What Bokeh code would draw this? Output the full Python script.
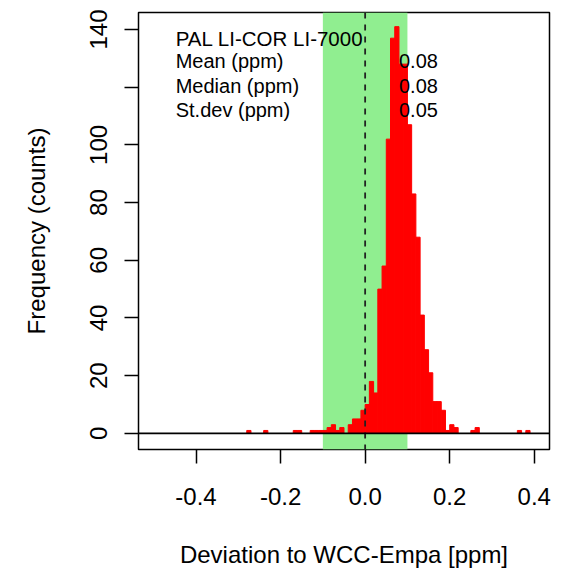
import numpy as np
from bokeh.plotting import figure
from bokeh.models import BoxAnnotation, Span, FixedTicker, Label, ColumnDataSource
from bokeh.embed import file_html
from bokeh.resources import INLINE

# ---- data -------------------------------------------------------------
bin_width = 0.01
first_break = -0.28
counts = [
    1, 0, 0, 0, 1, 0, 0, 0, 0, 0, 0, 1, 1, 0, 0, 1, 1, 1, 1, 2, 3, 1, 2, 0, 3, 5, 5, 8,
    10, 18, 14, 50, 58, 102, 137, 141, 128, 128, 107, 83, 68, 41, 29, 21, 11, 11, 8, 1,
    3, 2, 0, 0, 0, 1, 2, 0, 0, 0, 0, 0, 0, 0, 0, 0, 1, 0, 1,
]
target_band = [-0.1, 0.1]
x_ticks = [-0.4, -0.2, 0.0, 0.2, 0.4]
x_tick_labels = ["-0.4", "-0.2", "0.0", "0.2", "0.4"]
y_ticks = [0, 20, 40, 60, 80, 100, 120, 140]
y_tick_labels = ["0", "20", "40", "60", "80", "100", "", "140"]
legend_title = "PAL LI-COR LI-7000"
stat_names = ["Mean (ppm)", "Median (ppm)", "St.dev (ppm)"]
stat_values = ["0.08", "0.08", "0.05"]

# ---- derived ----------------------------------------------------------
left = np.round(first_break + bin_width * np.arange(len(counts)), 4)
right = np.round(left + bin_width, 4)
keep = np.array(counts) > 0
src = ColumnDataSource(dict(left=left[keep], right=right[keep],
                            top=np.array(counts)[keep], bottom=np.zeros(keep.sum())))

FONT = "Liberation Sans"

p = figure(width=561, height=570, x_range=(-0.536, 0.436), y_range=(-5.6, 145.9),
           output_backend="svg", toolbar_location=None,
           min_border_left=138, min_border_right=12, min_border_top=12, min_border_bottom=121)
p.grid.visible = False
p.background_fill_color = "white"
p.border_fill_color = "white"
p.outline_line_color = "black"
p.outline_line_width = 1.5

p.add_layout(BoxAnnotation(left=target_band[0], right=target_band[1],
                           fill_color="#90EE90", fill_alpha=1.0, line_color=None,
                           level="underlay"))

p.quad(left="left", right="right", top="top", bottom="bottom", source=src,
       fill_color="#FF0000", line_color="#FF0000", line_width=1)

p.add_layout(Span(location=0, dimension="height", line_color="#222222",
                  line_width=1.8, line_dash="6 6"))
p.add_layout(Span(location=0, dimension="width", line_color="black", line_width=1.8))

# axes
xa = p.xaxis[0]
xa.ticker = FixedTicker(ticks=x_ticks)
xa.major_label_overrides = {t: l for t, l in zip(x_ticks, x_tick_labels)}
xa.axis_label = "Deviation to WCC-Empa [ppm]"
ya = p.yaxis[0]
ya.ticker = FixedTicker(ticks=y_ticks)
ya.major_label_overrides = {t: l for t, l in zip(y_ticks, y_tick_labels)}
ya.axis_label = "Frequency (counts)"
ya.major_label_orientation = "vertical"

for ax in (xa, ya):
    ax.axis_line_color = None
    ax.minor_tick_line_color = None
    ax.major_tick_in = 0
    ax.major_tick_out = 14
    ax.major_tick_line_color = "black"
    ax.major_tick_line_width = 1.5
    ax.major_label_text_font = FONT
    ax.major_label_text_font_size = "24px"
    ax.major_label_text_color = "black"
    ax.axis_label_text_font = FONT
    ax.axis_label_text_font_size = "24px"
    ax.axis_label_text_font_style = "normal"
    ax.axis_label_text_color = "black"

xa.major_label_standoff = 24
xa.axis_label_standoff = 33
ya.major_label_standoff = 17
ya.axis_label_standoff = 38

# legend-like text block
p.add_layout(Label(x=-0.448, y=137, text=legend_title, text_font=FONT,
                   text_font_size="20.5px", text_baseline="alphabetic",
                   text_color="black"))
for i, (n, v) in enumerate(zip(stat_names, stat_values)):
    yy = 129 - 8.5 * i
    p.add_layout(Label(x=-0.448, y=yy, text=n, text_font=FONT,
                       text_font_size="20px", text_baseline="alphabetic",
                       text_color="black"))
    p.add_layout(Label(x=0.08, y=yy, text=v, text_font=FONT,
                       text_font_size="20px", text_baseline="alphabetic",
                       text_color="black"))

open("out.html", "w").write(file_html(p, INLINE))
